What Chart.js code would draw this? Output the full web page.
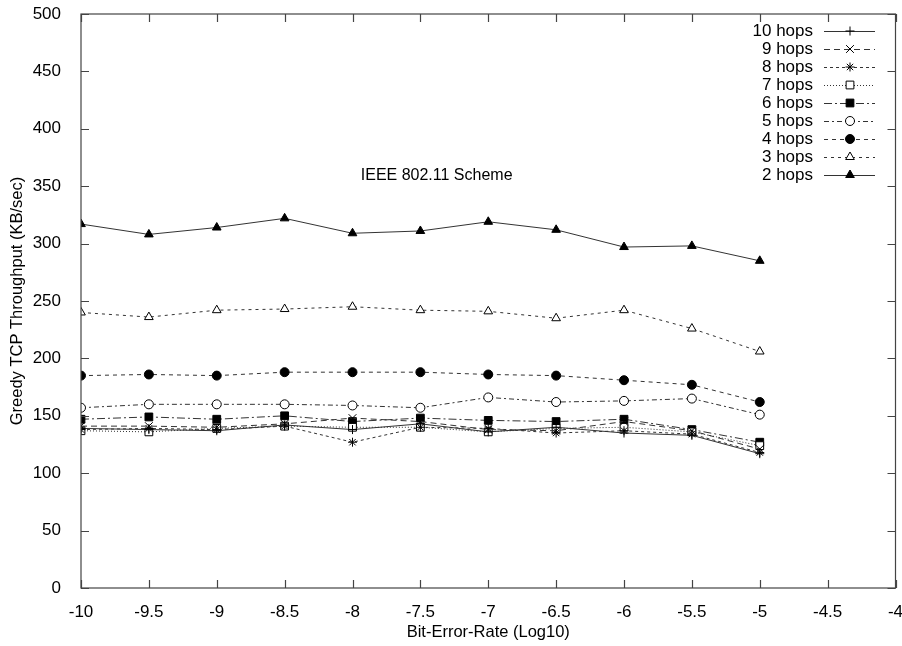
<!DOCTYPE html>
<html>
<head>
<meta charset="utf-8">
<script src="https://cdn.jsdelivr.net/npm/chart.js@4.4.1/dist/chart.umd.min.js"></script>
<style>
  html, body { margin: 0; padding: 0; background: #fff; }
  canvas { display: block; }
</style>
</head>
<body>
<canvas id="tcpChart" width="902" height="646"></canvas>
<script>
// bit-error-rate (log10) at which each run was made
const berLog = [-10, -9.5, -9, -8.5, -8, -7.5, -7, -6.5, -6, -5.5, -5];

// greedy TCP throughput, KB/sec, one array per hop count
const hops10 = [139, 138, 137, 142, 138, 143, 136, 140, 135, 133, 117];
const hops9  = [141, 141, 140, 143, 148, 145, 138, 137, 145, 137, 121];
const hops8  = [138, 139, 138, 141, 127, 140, 139, 135, 137, 134, 118];
const hops7  = [137, 136, 139, 141, 140, 140, 136, 139, 140, 136, 124];
const hops6  = [147, 149, 147, 150, 145, 148, 146, 145, 147, 138, 127];
const hops5  = [157, 160, 160, 160, 159, 157, 166, 162, 163, 165, 151];
const hops4  = [185, 186, 185, 188, 188, 188, 186, 185, 181, 177, 162];
const hops3  = [240, 236, 242, 243, 245, 242, 241, 235, 242, 226, 206];
const hops2  = [317, 308, 314, 322, 309, 311, 319, 312, 297, 298, 285];

const seriesNames = ['10 hops', '9 hops', '8 hops', '7 hops', '6 hops', '5 hops', '4 hops', '3 hops', '2 hops'];
const seriesValues = [hops10, hops9, hops8, hops7, hops6, hops5, hops4, hops3, hops2];

const xTicks = [-10, -9.5, -9, -8.5, -8, -7.5, -7, -6.5, -6, -5.5, -5, -4.5, -4];
const yTicks = [0, 50, 100, 150, 200, 250, 300, 350, 400, 450, 500];

const schemeLabel = 'IEEE 802.11 Scheme';

// gnuplot-ish line types and point types
const styles = [
  { dash: [],           point: 'cross',    radius: 4.5, fill: '#000' },
  { dash: [6, 4],       point: 'crossRot', radius: 5.5, fill: '#000' },
  { dash: [3, 3],       point: 'star',     radius: 4.5, fill: '#000' },
  { dash: [1, 2],       point: 'rect',     radius: 5.5, fill: '#fff' },
  { dash: [8, 3, 2, 3], point: 'rect',     radius: 5.5, fill: '#000' },
  { dash: [5, 3, 2, 3], point: 'circle',   radius: 4.5, fill: '#fff' },
  { dash: [4, 4],       point: 'circle',   radius: 4.5, fill: '#000' },
  { dash: [3, 4],       point: 'triangle', radius: 5,   fill: '#fff' },
  { dash: [],           point: 'triangle', radius: 5,   fill: '#000' }
];

const FONT = '"Liberation Sans", Arial, Helvetica, sans-serif';
Chart.defaults.font.family = FONT;
Chart.defaults.font.size = 17;
Chart.defaults.color = '#000';

const datasets = seriesValues.map((vals, i) => ({
  label: seriesNames[i],
  data: vals.map((v, j) => ({ x: berLog[j], y: v })),
  borderColor: '#333',
  borderWidth: 1,
  borderDash: styles[i].dash,
  pointStyle: styles[i].point,
  pointRadius: styles[i].radius,
  pointBorderColor: '#000',
  pointBackgroundColor: styles[i].fill,
  pointBorderWidth: 1,
  tension: 0,
  fill: false
}));

// box, inward ticks, key and scheme label
const gnuplotFrame = {
  id: 'gnuplotFrame',
  afterDraw(chart) {
    const ctx = chart.ctx;
    const a = chart.chartArea;
    const xs = chart.scales.x, ys = chart.scales.y;
    ctx.save();
    ctx.strokeStyle = '#444';
    ctx.lineWidth = 1.2;
    ctx.setLineDash([]);
    ctx.strokeRect(a.left, a.top, a.right - a.left, a.bottom - a.top);
    const tl = 8;
    ctx.beginPath();
    xTicks.forEach(v => {
      const px = Math.round(xs.getPixelForValue(v)) + 0.5;
      ctx.moveTo(px, a.bottom); ctx.lineTo(px, a.bottom - tl);
      ctx.moveTo(px, a.top); ctx.lineTo(px, a.top + tl);
    });
    yTicks.forEach(v => {
      const py = Math.round(ys.getPixelForValue(v)) + 0.5;
      ctx.moveTo(a.left, py); ctx.lineTo(a.left + tl, py);
      ctx.moveTo(a.right, py); ctx.lineTo(a.right - tl, py);
    });
    ctx.stroke();

    // key
    ctx.font = '17px ' + FONT;
    ctx.textAlign = 'right';
    ctx.textBaseline = 'middle';
    const rowTop = 31, rowStep = 18;
    chart.data.datasets.forEach((ds, i) => {
      const y = rowTop + i * rowStep;
      ctx.fillStyle = '#000';
      ctx.fillText(ds.label, 813, y);
      ctx.strokeStyle = ds.borderColor;
      ctx.lineWidth = 1;
      ctx.setLineDash(ds.borderDash);
      ctx.beginPath();
      ctx.moveTo(824, y + 0.5);
      ctx.lineTo(875, y + 0.5);
      ctx.stroke();
      ctx.setLineDash([]);
      ctx.strokeStyle = '#000';
      ctx.fillStyle = ds.pointBackgroundColor;
      Chart.helpers.drawPoint(ctx, {
        pointStyle: ds.pointStyle, radius: ds.pointRadius, rotation: 0, borderWidth: 1
      }, 850, y);
    });

    ctx.font = '16px ' + FONT;
    ctx.fillStyle = '#000';
    ctx.textAlign = 'center';
    ctx.fillText(schemeLabel, xs.getPixelForValue(-7.38), ys.getPixelForValue(359));
    ctx.restore();
  }
};

new Chart(document.getElementById('tcpChart'), {
  type: 'line',
  data: { datasets },
  options: {
    responsive: false,
    animation: false,
    layout: { padding: { top: 14, right: 5, left: 0, bottom: 0 } },
    plugins: { legend: { display: false }, tooltip: { enabled: false } },
    scales: {
      x: {
        type: 'linear',
        min: -10, max: -4,
        afterBuildTicks: s => { s.ticks = xTicks.map(v => ({ value: v })); },
        afterFit: s => { s.height = 58; s.paddingLeft = 0; s.paddingRight = 0; },
        grid: { display: false },
        border: { display: false },
        ticks: { padding: 6, maxRotation: 0, autoSkip: false, callback: v => String(v) },
        title: { display: true, text: 'Bit-Error-Rate (Log10)', font: { size: 16.5 }, padding: { top: 0, bottom: 4 } }
      },
      y: {
        min: 0, max: 500,
        afterBuildTicks: s => { s.ticks = yTicks.map(v => ({ value: v })); },
        afterFit: s => { s.width = 81; s.paddingTop = 0; s.paddingBottom = 0; },
        grid: { display: false },
        border: { display: false },
        ticks: { padding: 12, autoSkip: false, callback: v => String(v) },
        title: { display: true, text: 'Greedy TCP Throughput (KB/sec)', font: { size: 16.5 }, padding: { top: 8, bottom: 0 } }
      }
    }
  },
  plugins: [gnuplotFrame]
});
</script>
</body>
</html>
